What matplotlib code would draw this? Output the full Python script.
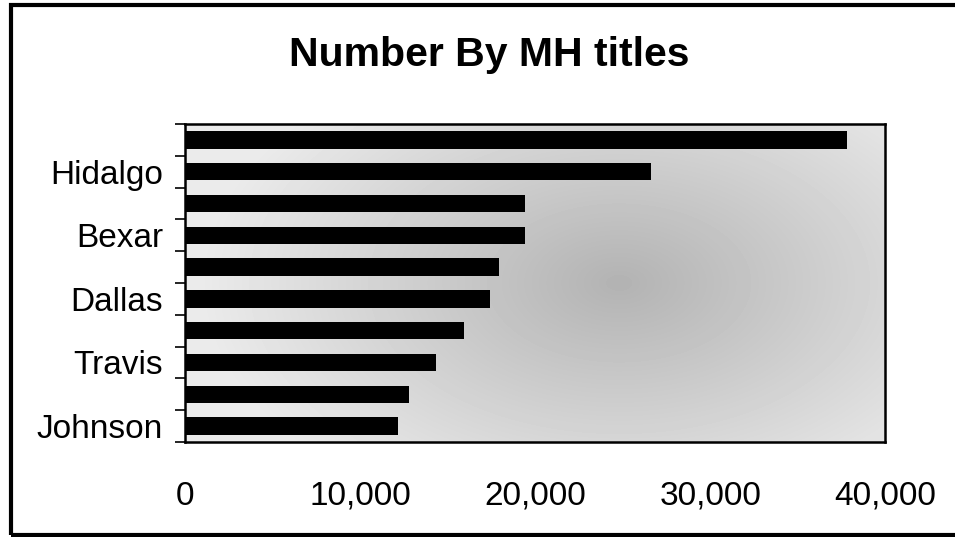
import numpy as np
import matplotlib
matplotlib.use('Agg')
import matplotlib.pyplot as plt
import matplotlib.patches as mpatches

plt.rcParams['font.family'] = ['Liberation Sans', 'DejaVu Sans']

# counties, top to bottom (only every other label is shown, as in the original)
counties = ['Harris', 'Hidalgo', 'Tarrant', 'Bexar', 'Cameron',
            'Dallas', 'Montgomery', 'Travis', 'El Paso', 'Johnson']
shown_labels = ['Hidalgo', 'Bexar', 'Dallas', 'Travis', 'Johnson']
titles = [37800, 26600, 19400, 19400, 17900, 17400, 15900, 14300, 12800, 12150]
xticks = [0, 10000, 20000, 30000, 40000]

fig = plt.figure(figsize=(9.55, 5.37), dpi=100)
ax = fig.add_axes([0.194, 0.177, 0.733, 0.592])

# outer frame of the scanned chart
frame = mpatches.Rectangle((0.011, 0.004), 1.2, 0.987, transform=fig.transFigure,
                           fill=False, edgecolor='black', linewidth=3, clip_on=False)
fig.patches.append(frame)

n = len(counties)
ypos = np.arange(n)[::-1]

# grey gradient background (plot area fill)
gx, gy = np.meshgrid(np.linspace(0, 1, 200), np.linspace(0, 1, 100))
dist = np.sqrt(((gx - 0.62) / 0.6) ** 2 + ((gy - 0.5) / 0.8) ** 2)
shade = np.clip(0.70 + 0.22 * dist, 0.70, 0.92)
ax.imshow(shade, cmap='gray', vmin=0, vmax=1, aspect='auto',
          extent=[0, 40000, -0.5, n - 0.5], zorder=0, interpolation='bilinear')

ax.barh(ypos, titles, height=0.55, color='black', zorder=2)

ax.set_xlim(0, 40000)
ax.set_ylim(-0.5, n - 0.5)

ax.set_xticks(xticks)
ax.set_xticklabels([f'{v:,}' for v in xticks], fontsize=24)
ax.tick_params(axis='x', length=0, pad=28)

# ticks between categories, labels on every other bar
ax.set_yticks(np.arange(n + 1) - 0.5)
ax.set_yticklabels([])
ax.tick_params(axis='y', which='major', length=7, width=1.2, direction='out')
label_pos = [ypos[counties.index(c)] for c in shown_labels]
ax.set_yticks(label_pos, minor=True)
ax.set_yticklabels(shown_labels, minor=True, fontsize=24)
ax.tick_params(axis='y', which='minor', length=0, pad=16)

for s in ax.spines.values():
    s.set_linewidth(1.8)
    s.set_color('black')

fig.text(0.512, 0.897, 'Number By MH titles', ha='center', va='center',
         fontsize=29.5, fontweight='bold')

fig.savefig('out.png', dpi=100)
plt.close()
